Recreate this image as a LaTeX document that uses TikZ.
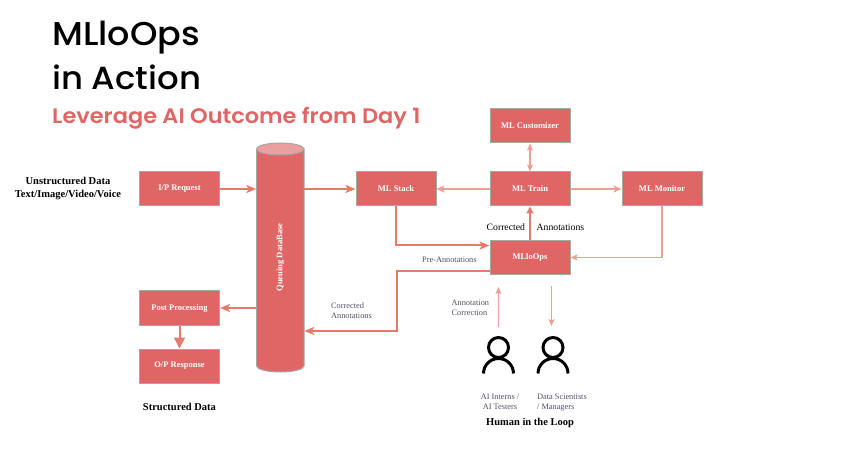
\documentclass[tikz,border=0pt]{standalone}
\usepackage{fontspec}
\setmainfont{Liberation Serif}
\newfontfamily\titlefont{Poppins Medium}[FakeStretch=1.06]
\newfontfamily\subtitlefont{Poppins SemiBold}[FakeStretch=1.07]
\usetikzlibrary{arrows.meta,calc}
\definecolor{boxred}{HTML}{E06666}
\definecolor{boxline}{HTML}{A6A6A6}
\definecolor{linkred}{HTML}{E57B6C}
\definecolor{linklight}{HTML}{EE9E92}
\definecolor{toplight}{HTML}{EAA0A0}
\definecolor{notegray}{HTML}{4F5068}
\tikzset{
  x=1pt,y=-1pt,
  stagebox/.style={draw=boxline,line width=1pt,fill=boxred,minimum width=80pt,minimum height=34pt,inner sep=0pt,text=white,font=\fontsize{8.5}{10}\selectfont\bfseries},
  heavy/.style={draw=linkred,line width=2pt,-{Stealth[length=10pt,width=8pt,inset=2.5pt]}},
  solidtip/.style={draw=linkred,line width=1.3pt,-{Triangle[length=7pt,width=7pt]}},
  light/.style={draw=linklight,line width=1.5pt,-{Stealth[length=8pt,width=7pt,inset=2pt]}},
  thin link/.style={draw=linklight,line width=1.1pt,-{Stealth[length=7pt,width=6pt,inset=1.5pt]}},
  note/.style={text=notegray,font=\fontsize{8.3}{10}\selectfont,inner sep=0pt,align=left},
  caption/.style={text=black,font=\fontsize{10.5}{13}\selectfont\bfseries,inner sep=0pt,align=center},
  plain label/.style={text=black,font=\fontsize{9.7}{12}\selectfont,inner sep=0pt},
  titletext/.style={anchor=base west,inner sep=0pt,font=\titlefont\fontsize{33}{40}\selectfont},
  person/.style={draw=black,line width=3pt},
  dbbody/.style={draw=boxline,line width=1pt,fill=boxred},
}
\begin{document}
\begin{tikzpicture}
\useasboundingbox (0,0) rectangle (851,470);
% titles
\node[titletext] (t1) at (52,45.5) {MLloOps};
\node[titletext,font=\titlefont\fontsize{32}{40}\selectfont] (t2) at (52,90) {in Action};
\node[anchor=base west,inner sep=0pt,text=boxred,font=\subtitlefont\fontsize{21}{26}\selectfont] (t3) at (52,124) {Leverage AI Outcome from Day 1};
% boxes
\node[stagebox] (ip) at (179.5,189) {I/P Request};
\node[stagebox] (stack) at (396,189) {ML Stack};
\node[stagebox] (cust) at (530,126) {ML Customizer};
\node[stagebox] (train) at (530,189) {ML Train};
\node[stagebox] (monitor) at (662,189) {ML Monitor};
\node[stagebox] (ops) at (530,257.5) {MLloOps};
\node[stagebox] (post) at (179.5,308) {Post Processing};
\node[stagebox] (resp) at (179.5,366) {O/P Response};
% database
\draw[dbbody] (256.5,149) -- (256.5,366) arc[start angle=180,end angle=0,x radius=23.75,y radius=6] -- (304,149) -- cycle;
\draw[dbbody,fill=toplight] (280.25,149) ellipse[x radius=23.75,y radius=6];
\node[minimum width=47.5pt,minimum height=229pt,inner sep=0pt] (db) at (280.25,257.5) {};
\node[rotate=90,text=white,inner sep=0pt,font=\fontsize{8.5}{10}\selectfont\bfseries] (dbtext) at (db.center) {Queuing DataBase};
% connectors
\draw[heavy] (ip.east) -- (db.west |- ip.east);
\draw[heavy] (db.east |- stack.west) -- (stack.west);
\draw[light] (train.west) -- (stack.east);
\draw[light] (train.east) -- (monitor.west);
\draw[thin link,{Stealth[length=7pt,width=6pt,inset=1.5pt]}-{Stealth[length=7pt,width=6pt,inset=1.5pt]}] (cust.south) -- (train.north);
\draw[heavy] (stack.south) |- ($(ops.west)+(0,-12)$);
\draw[solidtip] (ops.north) -- (train.south);
\draw[thin link] (monitor.south) |- (ops.east);
\draw[heavy] ($(ops.west)+(0,13.5)$) -| (397,331) -- (db.east |- 0,331);
\draw[heavy] (db.west |- post.east) -- (post.east);
\draw[draw=linkred,line width=2pt,-{Triangle[length=11pt,width=11pt]}] (post.south) -- (resp.north);
% people
\node[person,circle,minimum size=20pt,inner sep=0pt] (p1) at (498.5,347.5) {};
\node[person,circle,minimum size=20pt,inner sep=0pt] (p2) at (553,347.5) {};
\draw[person] ($(p1.center)+(-15,26)$) arc[start angle=180,end angle=360,radius=15];
\draw[person] ($(p2.center)+(-15,26)$) arc[start angle=180,end angle=360,radius=15];
\coordinate (upfree) at (498.5,287);
\coordinate (downfree) at (551.5,286);
\draw[thin link,line width=1.3pt] (p1.center |- 0,327) -- (upfree);
\draw[thin link,line width=1.3pt] (downfree) -- (551.5,326);
% labels
\node[caption] (unstr) at (68,188.5) {Unstructured Data\\Text/Image/Video/Voice};
\node[caption] (struct) at (179.5,406.5) {Structured Data};
\node[caption] (hil) at (530,422.5) {Human in the Loop};
\node[plain label,anchor=west] (la) at (486.5,227.5) {Corrected};
\node[plain label,anchor=west] (lb) at (536.5,227.5) {Annotations};
\node[note,anchor=west] (lc) at (422,259.5) {Pre-Annotations};
\node[note,anchor=west] (ld) at (331,311) {Corrected\\Annotations};
\node[note,anchor=west] (le) at (451.5,308) {Annotation\\Correction};
\node[note,align=center] (lf) at (500,402) {AI Interns /\\AI Testers};
\node[note,anchor=west] (lg) at (537,403) {Data Scientists\\/ Managers};
\end{tikzpicture}
\end{document}
